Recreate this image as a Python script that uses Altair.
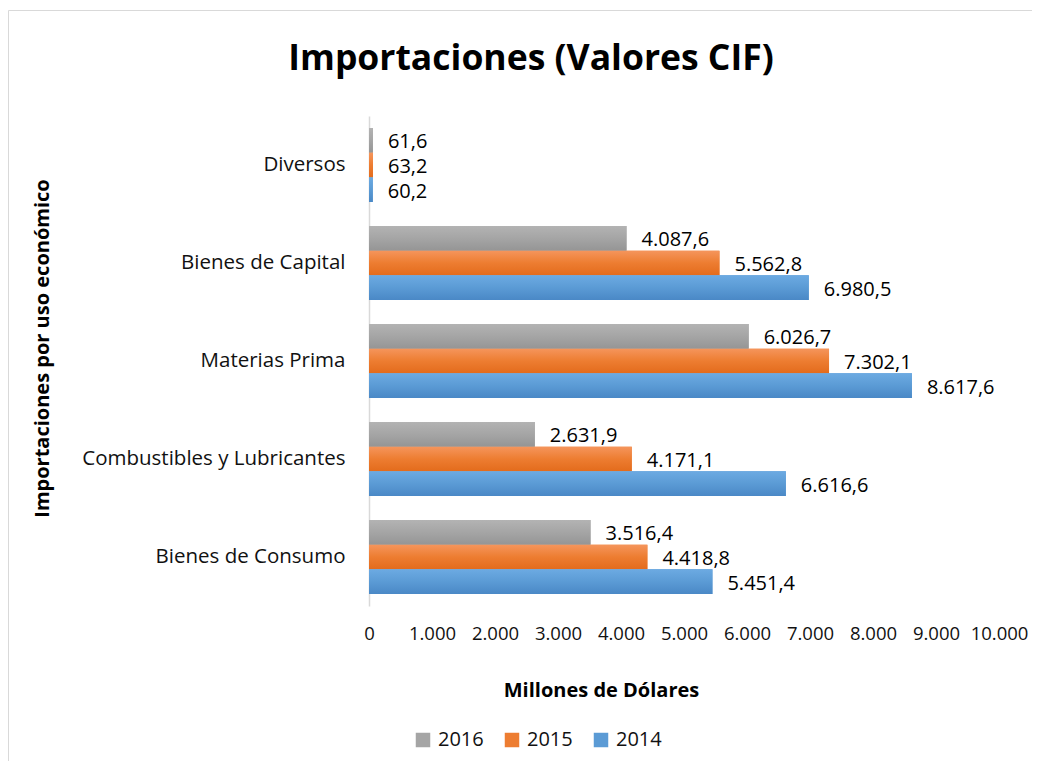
import altair as alt
import pandas as pd

categories = ["Diversos", "Bienes de Capital", "Materias Prima",
              "Combustibles y Lubricantes", "Bienes de Consumo"]
years = ["2016", "2015", "2014"]
values_2016 = [61.6, 4087.6, 6026.7, 2631.9, 3516.4]
values_2015 = [63.2, 5562.8, 7302.1, 4171.1, 4418.8]
values_2014 = [60.2, 6980.5, 8617.6, 6616.6, 5451.4]
x_ticks = list(range(0, 10001, 1000))
chart_title = "Importaciones (Valores CIF)"

rows = []
for yr, vals in zip(years, [values_2016, values_2015, values_2014]):
    for c, v in zip(categories, vals):
        rows.append({"cat": c, "year": yr, "value": v})
df = pd.DataFrame(rows)

FONT = "Open Sans"
mid_colors = ["#a5a5a5", "#ed7d31", "#5b9bd5"]
grad_colors = {
    "2016": ("#b3b3b3", "#a5a5a5", "#959595"),
    "2015": ("#f5955c", "#ed7d31", "#e36b1c"),
    "2014": ("#6caae2", "#5b9bd5", "#4a88c6"),
}

y_enc = alt.Y("cat:N", sort=categories,
              scale=alt.Scale(paddingInner=0.245, paddingOuter=0.1225),
              axis=alt.Axis(title="Importaciones por uso económico",
                            titleAngle=-90, titleX=-327, titleY=232,
                            titleAlign="center", titleBaseline="middle",
                            titleFontSize=20, titleFontWeight="bold",
                            titleFont=FONT, titleColor="#000000",
                            labelFontSize=20.5, labelFont=FONT, labelColor="#111111",
                            labelPadding=24, labelLimit=500, ticks=False, domain=True,
                            domainColor="#d9d9d9", domainWidth=1.5, grid=False))
yoff_enc = alt.YOffset("year:N", scale=alt.Scale(domain=years, paddingInner=0, paddingOuter=0))
x_enc = alt.X("value:Q", scale=alt.Scale(domain=[0, 10000], nice=False),
              axis=alt.Axis(values=x_ticks, title="Millones de Dólares",
                            labelExpr="replace(format(datum.value, ','), ',', '.')",
                            labelOverlap=False, labelFlush=False,
                            titleX=232, titleY=84, titleAlign="center",
                            titleBaseline="middle", titleFontSize=20,
                            titleFontWeight="bold", titleFont=FONT, titleColor="#000000",
                            labelFontSize=18.5, labelFont=FONT, labelColor="#111111",
                            labelPadding=18, ticks=False, domain=False, grid=False))

base = alt.Chart(df)

solid = base.mark_bar().encode(
    y=y_enc, yOffset=yoff_enc, x=x_enc,
    color=alt.Color("year:N", scale=alt.Scale(domain=years, range=mid_colors),
                    legend=alt.Legend(orient="none", legendX=44, legendY=614,
                                      direction="horizontal", columns=3, title=None,
                                      symbolType="square", symbolSize=210,
                                      symbolStrokeWidth=0, labelFontSize=20,
                                      labelFont=FONT, labelColor="#111111",
                                      columnPadding=18, labelOffset=5)),
)

grad_layers = []
for yr in years:
    c1, c2, c3 = grad_colors[yr]
    grad = alt.LinearGradient(
        gradient="linear", x1=0, x2=0, y1=0, y2=1,
        stops=[alt.GradientStop(color=c1, offset=0),
               alt.GradientStop(color=c2, offset=0.5),
               alt.GradientStop(color=c3, offset=1)])
    grad_layers.append(
        base.transform_filter(alt.datum.year == yr)
        .mark_bar(fill=grad)
        .encode(y=y_enc, yOffset=yoff_enc, x=x_enc)
    )

labels = base.transform_calculate(
    lbl="replace(replace(replace(format(datum.value, ',.1f'), ',', '#'), '.', ','), '#', '.')"
).mark_text(align="left", baseline="middle", dx=15, dy=2, fontSize=20,
            font=FONT, color="#000000").encode(
    y=y_enc, yOffset=yoff_enc, x=x_enc, text="lbl:N")

border = alt.Chart(alt.Data(values=[{"a": 1}])).mark_rect(
    filled=False, stroke="#d9d9d9", strokeWidth=1).encode(
    x=alt.value(-360.5), x2=alt.value(700), y=alt.value(-105.5), y2=alt.value(700))

title = alt.Chart(alt.Data(values=[{"t": chart_title}])).mark_text(
    font=FONT, fontSize=35.5, fontWeight="bold", color="#000000",
    align="center", baseline="middle").encode(
    x=alt.value(162), y=alt.value(-57), text="t:N")

chart = alt.layer(border, title, solid, *grad_layers, labels).properties(
    width=630, height=490,
    autosize=alt.AutoSizeParams(type="none"),
    padding={"left": 361, "top": 108, "right": 33, "bottom": 155},
).configure_view(strokeWidth=0)

chart.save("out.html", embed_options={"renderer": "svg", "actions": False})
